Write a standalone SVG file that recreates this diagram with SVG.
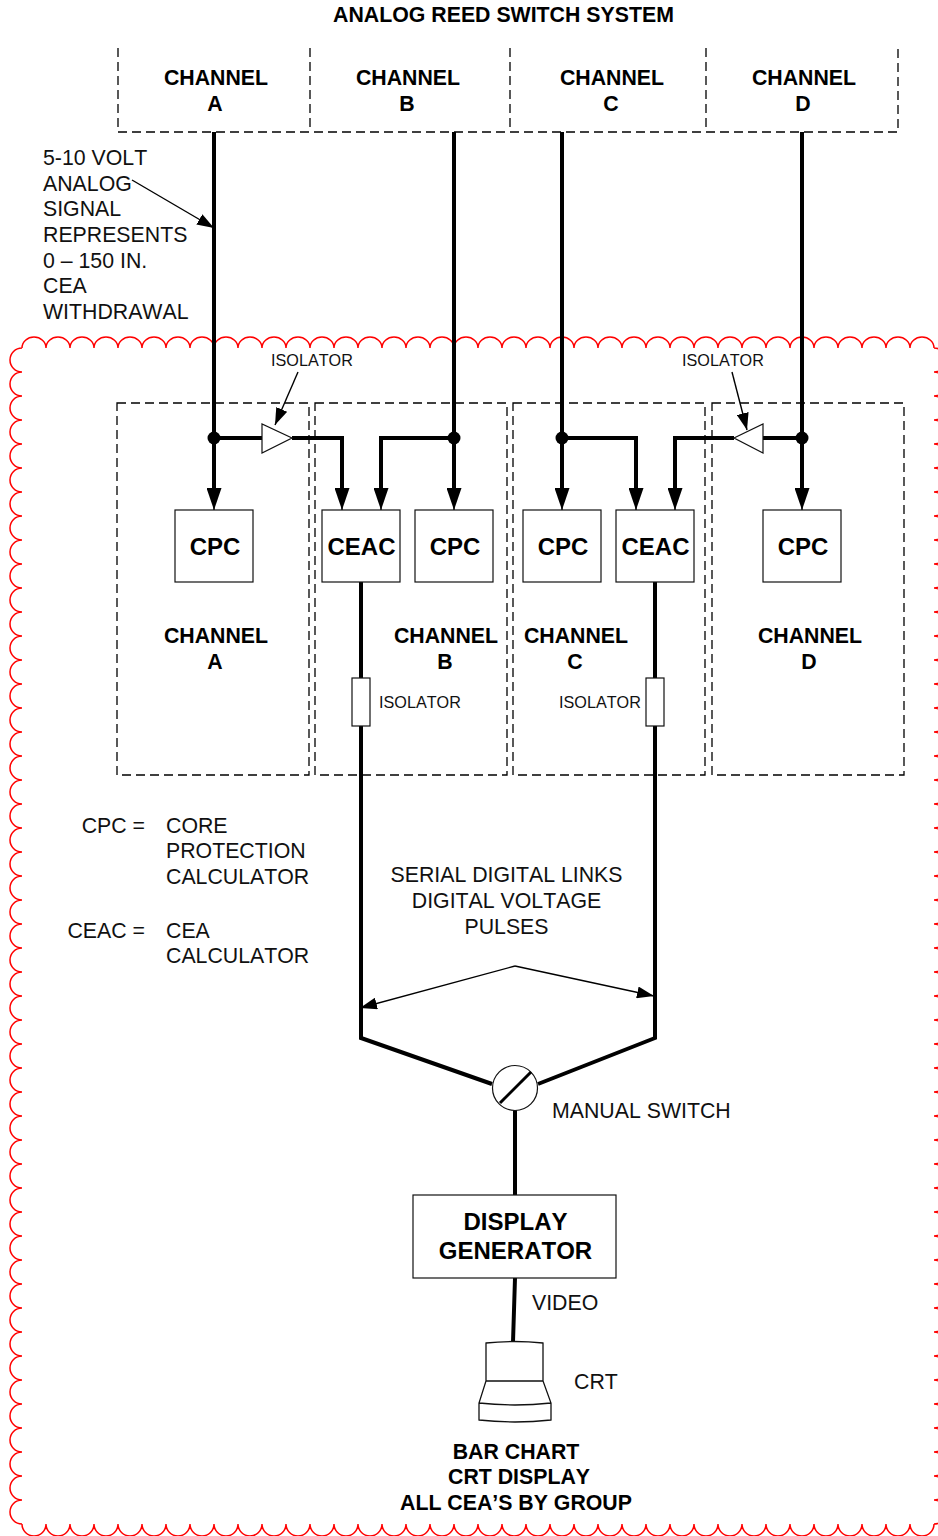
<svg xmlns="http://www.w3.org/2000/svg" width="938" height="1536" viewBox="0 0 938 1536">
<style>
text{font-family:"Liberation Sans",Arial,sans-serif;font-size:21.3px;fill:#111;font-kerning:none}
.b{font-weight:bold;fill:#000}
.m{text-anchor:middle}
.e{text-anchor:end}
.big{font-size:24px}
.s{font-size:16.2px}
.box{fill:#fff;stroke:#111;stroke-width:1.2}
.dash{fill:none;stroke:#000;stroke-width:1.3;stroke-dasharray:9 5}
.w{fill:none;stroke:#000;stroke-width:4;stroke-linejoin:miter}
.t{fill:none;stroke:#000;stroke-width:1.4}
.cloud{fill:none;stroke:#f00;stroke-width:1.5}
</style>
<defs>
<marker id="big" markerUnits="userSpaceOnUse" markerWidth="22" markerHeight="15" refX="22" refY="7.500" viewBox="0 0 22 15" orient="auto"><path d="M0 0L22 7.500L0 15z" fill="#000"/></marker>
<marker id="a" markerUnits="userSpaceOnUse" markerWidth="17" markerHeight="12" refX="17" refY="6" viewBox="0 0 17 12" orient="auto"><path d="M0 0L17 6L0 12z" fill="#000"/></marker>
</defs>
<rect width="938" height="1536" fill="#fff"/>
<g id="cloud"><path class="cloud" d="M22 348a12 11 0 0 1 24 0a12 11 0 0 1 24 0a12 11 0 0 1 24 0a12 11 0 0 1 24 0a12 11 0 0 1 24 0a12 11 0 0 1 24 0a12 11 0 0 1 24 0a12 11 0 0 1 24 0a12 11 0 0 1 24 0a12 11 0 0 1 24 0a12 11 0 0 1 24 0a12 11 0 0 1 24 0a12 11 0 0 1 24 0a12 11 0 0 1 24 0a12 11 0 0 1 24 0a12 11 0 0 1 24 0a12 11 0 0 1 24 0a12 11 0 0 1 24 0a12 11 0 0 1 24 0a12 11 0 0 1 24 0a12 11 0 0 1 24 0a12 11 0 0 1 24 0a12 11 0 0 1 24 0a12 11 0 0 1 24 0a12 11 0 0 1 24 0a12 11 0 0 1 24 0a12 11 0 0 1 24 0a12 11 0 0 1 24 0a12 11 0 0 1 24 0a12 11 0 0 1 24 0a12 11 0 0 1 24 0a12 11 0 0 1 24 0a12 11 0 0 1 24 0a12 11 0 0 1 24 0a12 11 0 0 1 24 0a12 11 0 0 1 24 0a12 11 0 0 1 24 0a12 11 0 0 1 24 0
M22 372a12 12 0 0 1 0 -24M22 396a12 12 0 0 1 0 -24M22 420a12 12 0 0 1 0 -24M22 444a12 12 0 0 1 0 -24M22 468a12 12 0 0 1 0 -24M22 492a12 12 0 0 1 0 -24M22 516a12 12 0 0 1 0 -24M22 540a12 12 0 0 1 0 -24M22 564a12 12 0 0 1 0 -24M22 588a12 12 0 0 1 0 -24M22 612a12 12 0 0 1 0 -24M22 636a12 12 0 0 1 0 -24M22 660a12 12 0 0 1 0 -24M22 684a12 12 0 0 1 0 -24M22 708a12 12 0 0 1 0 -24M22 732a12 12 0 0 1 0 -24M22 756a12 12 0 0 1 0 -24M22 780a12 12 0 0 1 0 -24M22 804a12 12 0 0 1 0 -24M22 828a12 12 0 0 1 0 -24M22 852a12 12 0 0 1 0 -24M22 876a12 12 0 0 1 0 -24M22 900a12 12 0 0 1 0 -24M22 924a12 12 0 0 1 0 -24M22 948a12 12 0 0 1 0 -24M22 972a12 12 0 0 1 0 -24M22 996a12 12 0 0 1 0 -24M22 1020a12 12 0 0 1 0 -24M22 1044a12 12 0 0 1 0 -24M22 1068a12 12 0 0 1 0 -24M22 1092a12 12 0 0 1 0 -24M22 1116a12 12 0 0 1 0 -24M22 1140a12 12 0 0 1 0 -24M22 1164a12 12 0 0 1 0 -24M22 1188a12 12 0 0 1 0 -24M22 1212a12 12 0 0 1 0 -24M22 1236a12 12 0 0 1 0 -24M22 1260a12 12 0 0 1 0 -24M22 1284a12 12 0 0 1 0 -24M22 1308a12 12 0 0 1 0 -24M22 1332a12 12 0 0 1 0 -24M22 1356a12 12 0 0 1 0 -24M22 1380a12 12 0 0 1 0 -24M22 1404a12 12 0 0 1 0 -24M22 1428a12 12 0 0 1 0 -24M22 1452a12 12 0 0 1 0 -24M22 1476a12 12 0 0 1 0 -24M22 1500a12 12 0 0 1 0 -24M22 1524a12 12 0 0 1 0 -24
M934 348a12 12 0 0 1 0 24a12 12 0 0 1 0 24a12 12 0 0 1 0 24a12 12 0 0 1 0 24a12 12 0 0 1 0 24a12 12 0 0 1 0 24a12 12 0 0 1 0 24a12 12 0 0 1 0 24a12 12 0 0 1 0 24a12 12 0 0 1 0 24a12 12 0 0 1 0 24a12 12 0 0 1 0 24a12 12 0 0 1 0 24a12 12 0 0 1 0 24a12 12 0 0 1 0 24a12 12 0 0 1 0 24a12 12 0 0 1 0 24a12 12 0 0 1 0 24a12 12 0 0 1 0 24a12 12 0 0 1 0 24a12 12 0 0 1 0 24a12 12 0 0 1 0 24a12 12 0 0 1 0 24a12 12 0 0 1 0 24a12 12 0 0 1 0 24a12 12 0 0 1 0 24a12 12 0 0 1 0 24a12 12 0 0 1 0 24a12 12 0 0 1 0 24a12 12 0 0 1 0 24a12 12 0 0 1 0 24a12 12 0 0 1 0 24a12 12 0 0 1 0 24a12 12 0 0 1 0 24a12 12 0 0 1 0 24a12 12 0 0 1 0 24a12 12 0 0 1 0 24a12 12 0 0 1 0 24a12 12 0 0 1 0 24a12 12 0 0 1 0 24a12 12 0 0 1 0 24a12 12 0 0 1 0 24a12 12 0 0 1 0 24a12 12 0 0 1 0 24a12 12 0 0 1 0 24a12 12 0 0 1 0 24a12 12 0 0 1 0 24a12 12 0 0 1 0 24a12 12 0 0 1 0 24
M934 1524a12 12 0 0 1 -24 0a12 12 0 0 1 -24 0a12 12 0 0 1 -24 0a12 12 0 0 1 -24 0a12 12 0 0 1 -24 0a12 12 0 0 1 -24 0a12 12 0 0 1 -24 0a12 12 0 0 1 -24 0a12 12 0 0 1 -24 0a12 12 0 0 1 -24 0a12 12 0 0 1 -24 0a12 12 0 0 1 -24 0a12 12 0 0 1 -24 0a12 12 0 0 1 -24 0a12 12 0 0 1 -24 0a12 12 0 0 1 -24 0a12 12 0 0 1 -24 0a12 12 0 0 1 -24 0a12 12 0 0 1 -24 0a12 12 0 0 1 -24 0a12 12 0 0 1 -24 0a12 12 0 0 1 -24 0a12 12 0 0 1 -24 0a12 12 0 0 1 -24 0a12 12 0 0 1 -24 0a12 12 0 0 1 -24 0a12 12 0 0 1 -24 0a12 12 0 0 1 -24 0a12 12 0 0 1 -24 0a12 12 0 0 1 -24 0a12 12 0 0 1 -24 0a12 12 0 0 1 -24 0a12 12 0 0 1 -24 0a12 12 0 0 1 -24 0a12 12 0 0 1 -24 0a12 12 0 0 1 -24 0a12 12 0 0 1 -24 0a12 12 0 0 1 -24 0"/></g>
<text class="b m" x="503.500" y="22">ANALOG REED SWITCH SYSTEM</text>
<g id="channel-panels">
<path class="dash" d="M118 48V132H898V48M310 48V132M510 48V132M706 48V132"/>
<rect class="dash" x="117" y="403" width="192" height="372"/>
<rect class="dash" x="315" y="403" width="192" height="372"/>
<rect class="dash" x="513" y="403" width="192" height="372"/>
<rect class="dash" x="712" y="403" width="192" height="372"/>
</g>
<g id="connectors">
<path class="w" d="M214 132V500"/><path class="w" d="M454 132V500"/><path class="w" d="M562 132V500"/><path class="w" d="M802 132V500"/>
<path class="w" d="M214 438H262M292 438H342V500"/>
<path class="w" d="M454 438H381V500"/>
<path class="w" d="M562 438H636V500"/>
<path class="w" d="M802 438H763M734 438H675V500"/>
<path class="t" d="M214 488V510" marker-end="url(#big)"/><path class="t" d="M454 488V510" marker-end="url(#big)"/><path class="t" d="M562 488V510" marker-end="url(#big)"/><path class="t" d="M802 488V510" marker-end="url(#big)"/><path class="t" d="M342 488V510" marker-end="url(#big)"/><path class="t" d="M381 488V510" marker-end="url(#big)"/><path class="t" d="M636 488V510" marker-end="url(#big)"/><path class="t" d="M675 488V510" marker-end="url(#big)"/>
<path class="w" d="M361 582V1038L492 1084"/>
<path class="w" d="M655 582V1038L538 1084"/>
<path class="w" d="M515 1110V1195"/>
<path class="w" d="M515 1278L513 1342"/>
<path class="t" d="M132 180L214 228" marker-end="url(#a)"/>
<path class="t" d="M298 372L275 425" marker-end="url(#a)"/>
<path class="t" d="M732 372L747 430" marker-end="url(#a)"/>
<path class="t" d="M515 966L360 1008" marker-end="url(#a)"/>
<path class="t" d="M515 966L654 996" marker-end="url(#a)"/>
<circle cx="214" cy="438" r="6.500"/><circle cx="454" cy="438" r="6.500"/><circle cx="562" cy="438" r="6.500"/><circle cx="802" cy="438" r="6.500"/>
</g>
<g id="iso-a"><path class="box" d="M262 424V453L292 438z"/></g>
<g id="iso-d"><path class="box" d="M763 424V453L734 438z"/></g>
<g id="iso-b"><rect class="box" x="352" y="678" width="18" height="48"/></g>
<g id="iso-c"><rect class="box" x="646" y="678" width="18" height="48"/></g>
<g id="cpc-a"><rect class="box" x="175" y="510" width="78" height="72"/><text class="b m big" x="215" y="555">CPC</text></g>
<g id="ceac-b"><rect class="box" x="322" y="510" width="78" height="72"/><text class="b m big" x="361.500" y="555">CEAC</text></g>
<g id="cpc-b"><rect class="box" x="415" y="510" width="78" height="72"/><text class="b m big" x="455" y="555">CPC</text></g>
<g id="cpc-c"><rect class="box" x="523" y="510" width="78" height="72"/><text class="b m big" x="563" y="555">CPC</text></g>
<g id="ceac-c"><rect class="box" x="616" y="510" width="78" height="72"/><text class="b m big" x="655.500" y="555">CEAC</text></g>
<g id="cpc-d"><rect class="box" x="763" y="510" width="78" height="72"/><text class="b m big" x="803" y="555">CPC</text></g>
<g id="switch"><circle cx="515" cy="1088" r="22.500" fill="#fff" stroke="#111" stroke-width="1.2"/><path d="M500 1103L531 1072" stroke="#000" stroke-width="3" fill="none"/></g>
<g id="display-generator"><rect class="box" x="413" y="1195" width="203" height="83"/><text class="b m big" x="515.500" y="1230">DISPLAY</text><text class="b m big" x="515.500" y="1259">GENERATOR</text></g>
<g id="crt"><path fill="#fff" stroke="#111" stroke-width="1.3" d="M486 1343Q514 1340 543 1343V1381L551 1403V1420Q515 1424 479 1420V1403L486 1381zM486 1381H543M479 1403Q515 1407 551 1403"/></g>
<g id="labels">
<text class="b m" x="216" y="85">CHANNEL</text><text class="b m" x="215" y="111">A</text>
<text class="b m" x="408" y="85">CHANNEL</text><text class="b m" x="407" y="111">B</text>
<text class="b m" x="612" y="85">CHANNEL</text><text class="b m" x="611" y="111">C</text>
<text class="b m" x="804" y="85">CHANNEL</text><text class="b m" x="803" y="111">D</text>
<text class="b m" x="216" y="643">CHANNEL</text><text class="b m" x="215" y="669">A</text>
<text class="b m" x="446" y="643">CHANNEL</text><text class="b m" x="445" y="669">B</text>
<text class="b m" x="576" y="643">CHANNEL</text><text class="b m" x="575" y="669">C</text>
<text class="b m" x="810" y="643">CHANNEL</text><text class="b m" x="809" y="669">D</text>
<text x="43" y="165">5-10 VOLT</text><text x="43" y="191">ANALOG</text><text x="43" y="216">SIGNAL</text><text x="43" y="242">REPRESENTS</text><text x="43" y="268">0 – 150 IN.</text><text x="43" y="293">CEA</text><text x="43" y="319">WITHDRAWAL</text>
<text class="s" x="271" y="366">ISOLATOR</text><text class="s" x="682" y="366">ISOLATOR</text>
<text class="s" x="379" y="708">ISOLATOR</text><text class="s" x="559" y="708">ISOLATOR</text>
<text class="e" x="145" y="833">CPC =</text><text x="166" y="833">CORE</text><text x="166" y="858">PROTECTION</text><text x="166" y="884">CALCULATOR</text>
<text class="e" x="145" y="938">CEAC =</text><text x="166" y="938">CEA</text><text x="166" y="963">CALCULATOR</text>
<text class="m" x="506.500" y="882">SERIAL DIGITAL LINKS</text><text class="m" x="506.500" y="908">DIGITAL VOLTAGE</text><text class="m" x="506.500" y="934">PULSES</text>
<text x="552" y="1118">MANUAL SWITCH</text><text x="532" y="1310">VIDEO</text><text x="574" y="1389">CRT</text>
<text class="b m" x="516" y="1459">BAR CHART</text><text class="b m" x="519" y="1484">CRT DISPLAY</text><text class="b m" x="516" y="1510">ALL CEA’S BY GROUP</text>
</g>
</svg>
